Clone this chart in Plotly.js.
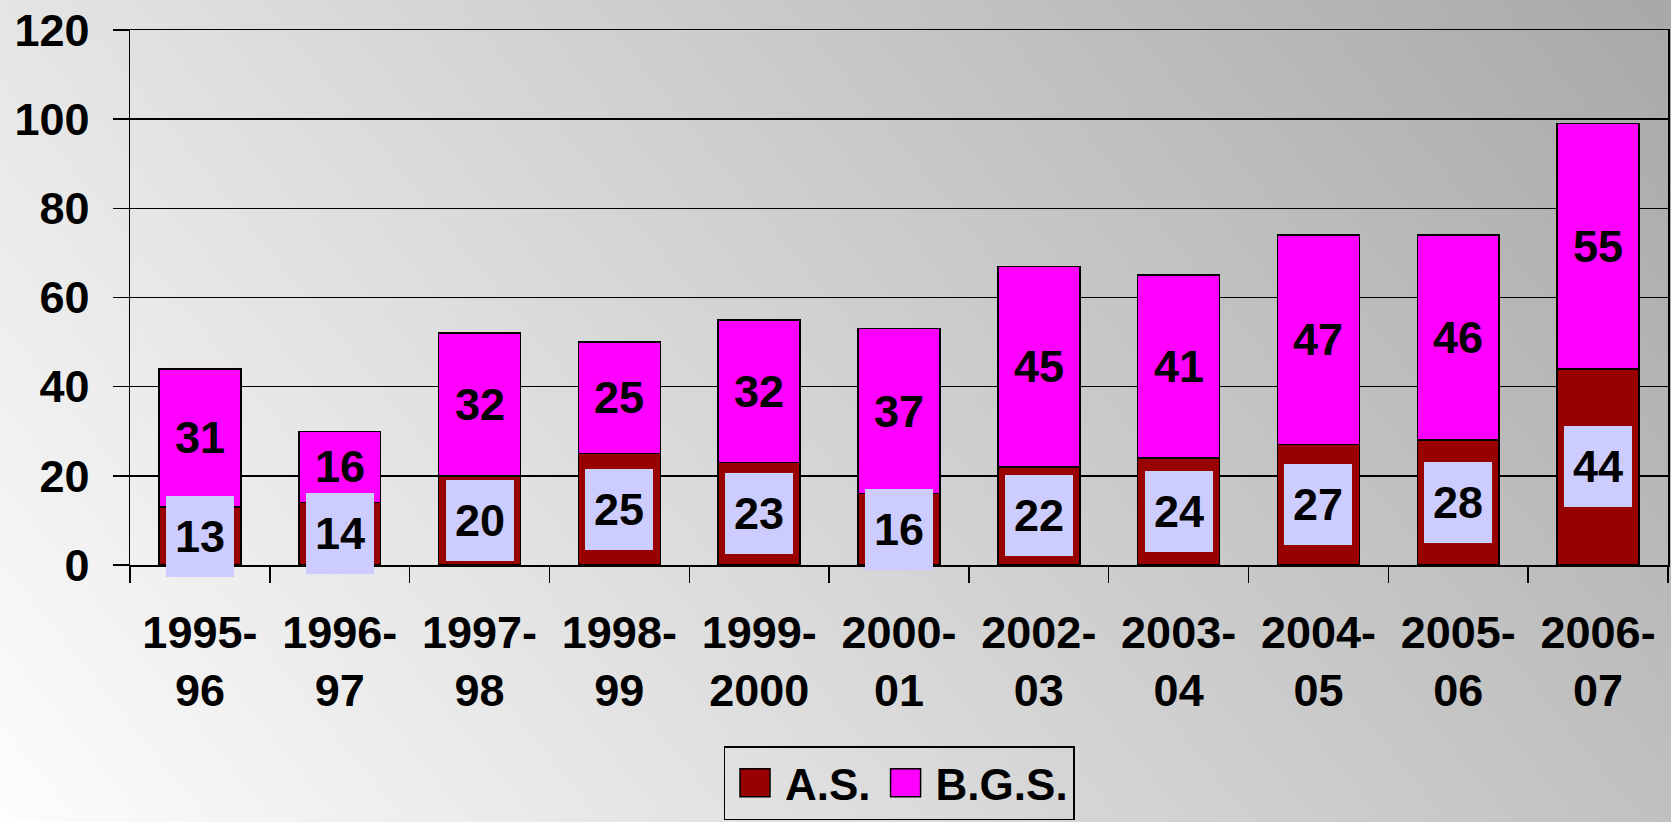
<!DOCTYPE html>
<html>
<head>
<meta charset="utf-8">
<script src="https://cdn.plot.ly/plotly-3.0.1.min.js"></script>
<style>
  html, body { margin: 0; padding: 0; }
  body { width: 1671px; height: 822px; background: linear-gradient(51deg, #fdfdfd 0%, #a8a8a8 100%); }
  #chart { width: 1671px; height: 822px; }
</style>
</head>
<body>
<div id="chart"></div>
<script>
const categories = ["1995-<br>96", "1996-<br>97", "1997-<br>98", "1998-<br>99", "1999-<br>2000", "2000-<br>01", "2002-<br>03", "2003-<br>04", "2004-<br>05", "2005-<br>06", "2006-<br>07"];
const asValues  = [13, 14, 20, 25, 23, 16, 22, 24, 27, 28, 44];
const bgsValues = [31, 16, 32, 25, 32, 37, 45, 41, 47, 46, 55];
const seriesNames = ["A.S.", "B.G.S."];
const yTicks = [0, 20, 40, 60, 80, 100, 120];

const FONT = "Liberation Sans, Arial, sans-serif";
const FS = 45;

const traces = [
  {
    type: "bar", name: seriesNames[0], x: categories, y: asValues,
    marker: { color: "#990000", line: { color: "#000000", width: 1.5 } },
    hoverinfo: "y"
  },
  {
    type: "bar", name: seriesNames[1], x: categories, y: bgsValues,
    marker: { color: "#FF00FF", line: { color: "#000000", width: 1.5 } },
    hoverinfo: "y"
  }
];

const annotations = [];
categories.forEach((c, i) => {
  annotations.push({
    x: c, y: asValues[i] / 2, xref: "x", yref: "y",
    text: String(asValues[i]), showarrow: false,
    bgcolor: "#CCCCFF", width: 68, height: 81, borderpad: 0, borderwidth: 0,
    font: { family: FONT, size: FS, color: "#000000", weight: "bold" }
  });
  annotations.push({
    x: c, y: asValues[i] + bgsValues[i] / 2, xref: "x", yref: "y",
    text: String(bgsValues[i]), showarrow: false,
    font: { family: FONT, size: FS, color: "#000000", weight: "bold" }
  });
});

const layout = {
  width: 1671, height: 822,
  paper_bgcolor: "rgba(0,0,0,0)", plot_bgcolor: "rgba(0,0,0,0)",
  margin: { l: 130, r: 3, t: 30, b: 256, pad: 0 },
  barmode: "stack", bargap: 0.414,
  font: { family: FONT, size: FS, color: "#000000", weight: "bold" },
  xaxis: {
    type: "category", tickson: "boundaries", ticks: "outside", ticklen: 16,
    tickwidth: 1.5, tickcolor: "#000000", showline: true, linecolor: "#000000",
    linewidth: 1.5, mirror: true, showgrid: false, ticklabelstandoff: 27,
    automargin: false,
    tickfont: { family: FONT, size: FS, color: "#000000", weight: "bold" }
  },
  yaxis: {
    range: [0, 120], tickvals: yTicks, ticktext: yTicks.map(String),
    ticks: "outside", ticklen: 16, tickwidth: 1.5, tickcolor: "#000000",
    showline: true, linecolor: "#000000", linewidth: 1.5, mirror: true,
    showgrid: true, gridcolor: "#000000", gridwidth: 1.5, zeroline: false,
    ticklabelstandoff: 14, automargin: false,
    tickfont: { family: FONT, size: FS, color: "#000000", weight: "bold" }
  },
  showlegend: true,
  legend: {
    orientation: "h", x: 0.5, xanchor: "center", y: -0.336, yanchor: "top",
    bgcolor: "rgba(0,0,0,0)", bordercolor: "#000000", borderwidth: 1.5,
    font: { family: FONT, size: 44, color: "#000000", weight: "bold" },
    itemwidth: 50, traceorder: "normal"
  },
  annotations: annotations
};

Plotly.newPlot("chart", traces, layout, { displayModeBar: false, staticPlot: true }).then(() => {
  document.querySelectorAll("#chart .legendpoints path").forEach(p => {
    p.setAttribute("d", "M15,14H-15V-14H15Z");
  });
});
</script>
</body>
</html>
